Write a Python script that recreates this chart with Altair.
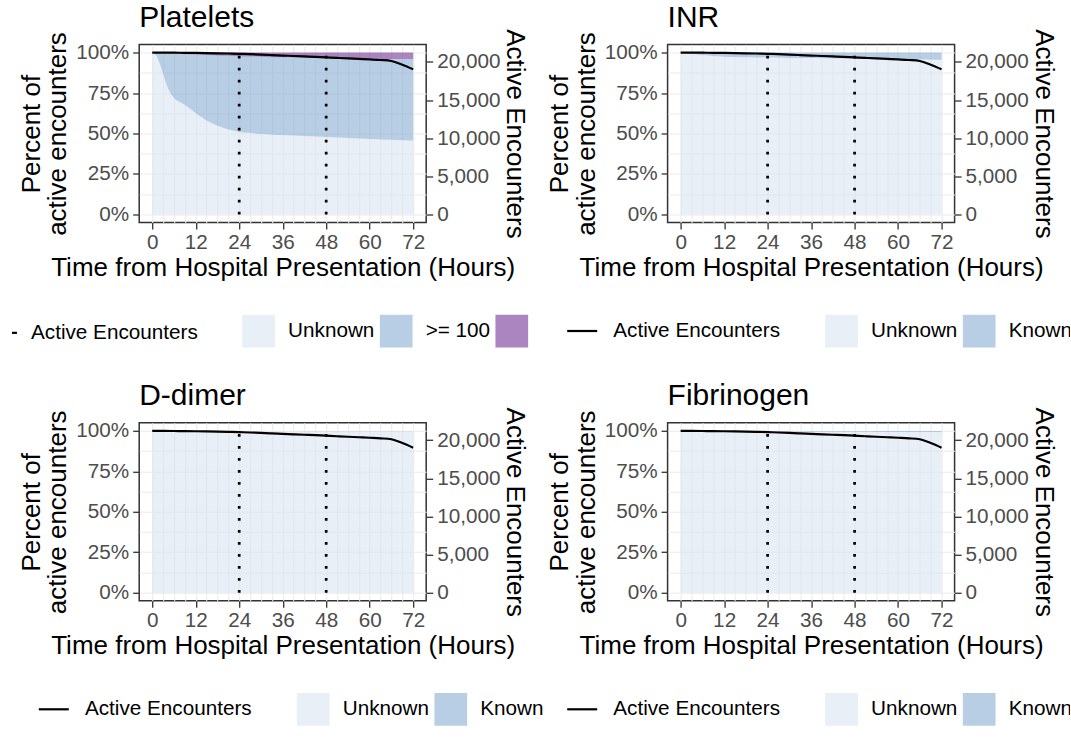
import altair as alt
import pandas as pd

FONT = "Liberation Sans"

# Hours at which the share of encounters in each lab status was read
hours = [0, 1, 2, 3, 4, 5, 6, 8, 10, 12, 15, 18, 21, 24, 27, 30, 33, 36, 39,
         42, 45, 48, 51, 54, 57, 60, 63, 66, 69, 72]

# Platelets (% of active encounters)
platelets_unknown = [100, 98.5, 93.5, 87, 80, 75, 72, 69, 66, 62.5, 58, 54.8, 52.5, 51,
                     50.3, 49.7, 49.3, 49.0, 48.7, 48.4, 48.1, 47.8, 47.5, 47.2, 46.9,
                     46.6, 46.3, 46.1, 45.9, 45.7]
platelets_ge100 = [0, 1.4, 6.3, 12.7, 19.6, 24.5, 27.4, 30.2, 33.0, 36.3, 40.5, 43.4, 45.5,
                   46.8, 47.3, 47.7, 47.9, 48.1, 48.3, 48.4, 48.6, 48.8, 49.0, 49.2, 49.4,
                   49.6, 49.8, 49.9, 50.1, 50.2]
platelets_lt100 = [0, 0.1, 0.2, 0.3, 0.4, 0.5, 0.6, 0.8, 1.0, 1.2, 1.5, 1.8, 2.0, 2.2, 2.4,
                   2.6, 2.8, 2.9, 3.0, 3.2, 3.3, 3.4, 3.5, 3.6, 3.7, 3.8, 3.9, 4.0, 4.0, 4.1]

# INR
inr_unknown = [100, 99.7, 99.4, 99.1, 98.9, 98.7, 98.5, 98.1, 97.8, 97.5, 97.3, 97.1, 97.0,
               96.9, 96.8, 96.7, 96.6, 96.6, 96.5, 96.4, 96.4, 96.3, 96.2, 96.1, 96.0,
               95.9, 95.8, 95.7, 95.6, 95.5]
inr_known = [0, 0.3, 0.6, 0.9, 1.1, 1.3, 1.5, 1.9, 2.2, 2.5, 2.7, 2.9, 3.0, 3.1, 3.2, 3.3,
             3.4, 3.4, 3.5, 3.6, 3.6, 3.7, 3.8, 3.9, 4.0, 4.1, 4.2, 4.3, 4.4, 4.5]

# D-dimer
ddimer_unknown = [100, 100, 100, 100, 100, 100, 100, 100, 99.9, 99.9, 99.9, 99.9, 99.9,
                  99.9, 99.9, 99.9, 99.9, 99.9, 99.9, 99.8, 99.8, 99.8, 99.8, 99.8, 99.8,
                  99.8, 99.8, 99.8, 99.8, 99.8]
ddimer_known = [0, 0, 0, 0, 0, 0, 0, 0, 0.1, 0.1, 0.1, 0.1, 0.1, 0.1, 0.1, 0.1, 0.1, 0.1,
                0.1, 0.2, 0.2, 0.2, 0.2, 0.2, 0.2, 0.2, 0.2, 0.2, 0.2, 0.2]

# Fibrinogen
fibrinogen_unknown = [100, 100, 99.95, 99.95, 99.9, 99.9, 99.9, 99.85, 99.85, 99.8, 99.75,
                      99.7, 99.65, 99.6, 99.6, 99.55, 99.55, 99.5, 99.5, 99.45, 99.45, 99.4,
                      99.4, 99.35, 99.35, 99.3, 99.3, 99.25, 99.25, 99.2]
fibrinogen_known = [0, 0, 0.05, 0.05, 0.1, 0.1, 0.1, 0.15, 0.15, 0.2, 0.25, 0.3, 0.35, 0.4,
                    0.4, 0.45, 0.45, 0.5, 0.5, 0.55, 0.55, 0.6, 0.6, 0.65, 0.65, 0.7, 0.7,
                    0.75, 0.75, 0.8]

# Encounters still in hospital (right axis)
line_hours = list(range(0, 73, 3))
active_encounters = [21230, 21225, 21215, 21200, 21185, 21165, 21140, 21110, 21070, 21020,
                     20965, 20905, 20845, 20785, 20725, 20665, 20600, 20530, 20460, 20395,
                     20330, 20255, 20130, 19640, 19030]

# Reference times marked with dotted lines
milestones = [24, 48]

grid_hours = list(range(0, 73, 3))
grid_pct = [0, 12.5, 25, 37.5, 50, 62.5, 75, 87.5, 100]
enc_ticks = [0, 5000, 10000, 15000, 20000]

COL_UNKNOWN = "#D9E4F2"
COL_BLUE = "#89ADD2"
COL_PURPLE = "#723496"

PLOT_W, PLOT_H = 287, 178
LEGEND_Y = 270


def x_enc():
    return alt.X(
        "hour:Q",
        scale=alt.Scale(domain=[-3.6, 75.6], nice=False, zero=False),
        axis=alt.Axis(
            values=grid_hours,
            labelExpr="datum.value % 12 === 0 ? datum.label : ''",
            tickOpacity={"condition": {"test": "datum.value % 12 === 0", "value": 1}, "value": 0},
            labelOverlap=False,
            grid=True,
            title="Time from Hospital Presentation (Hours)",
            titleLimit=1000,
            labelPadding=3,
            titlePadding=3,
        ),
    )


def pct_scale():
    return alt.Scale(domain=[-5, 105], nice=False, zero=False)


def stacked_frame(series):
    rows = []
    for rank, (label, values) in enumerate(series):
        for h, v in zip(hours, values):
            rows.append({"hour": h, "status": label, "pct": v, "rank": rank})
    return pd.DataFrame(rows)


def build_panel(title, series, colors, fill_x, stroke_x, stroke_size, stroke_offset, stroke_y):
    labels = [s[0] for s in series]
    areas = alt.Chart(stacked_frame(series)).mark_area(opacity=0.6, interpolate="monotone").encode(
        x=x_enc(),
        y=alt.Y(
            "pct:Q", stack="zero", scale=pct_scale(),
            axis=alt.Axis(
                values=grid_pct,
                labelExpr="datum.value % 25 === 0 ? datum.value + '%' : ''",
                tickOpacity={"condition": {"test": "datum.value % 25 === 0", "value": 1},
                             "value": 0},
                labelOverlap=False,
                grid=True,
                orient="left",
                title=["Percent of", "active encounters"],
                titleLineHeight=26.5,
                titleLimit=1000,
                labelPadding=4,
                titlePadding=5,
            ),
        ),
        color=alt.Color(
            "status:N",
            scale=alt.Scale(domain=labels, range=colors),
            legend=alt.Legend(
                title=None, orient="none", legendX=fill_x, legendY=LEGEND_Y,
                direction="horizontal", symbolType="square", symbolSize=1069,
                symbolStrokeWidth=0, labelOffset=13, columnPadding=4.6, padding=0,
                labelFont=FONT, labelFontSize=20.7, labelColor="black", labelLimit=400,
                labelExpr="datum.label == '< 100' ? '' : datum.label",
            ),
        ),
        order=alt.Order("rank:Q"),
    )
    rules = alt.Chart(pd.DataFrame({"hour": milestones, "lo": 0, "hi": 100})).mark_rule(
        color="black", strokeWidth=2.7, strokeDash=[2.7, 9.3]
    ).encode(
        x=x_enc(),
        y=alt.Y("lo:Q", scale=pct_scale(), axis=None),
        y2="hi:Q",
    )
    line_df = pd.DataFrame({"hour": line_hours, "encounters": active_encounters,
                            "series": "Active Encounters"})
    enc_top = active_encounters[0]
    line = alt.Chart(line_df).mark_line(strokeWidth=2.2, interpolate="monotone").encode(
        x=x_enc(),
        y=alt.Y(
            "encounters:Q",
            scale=alt.Scale(domain=[-0.05 * enc_top, 1.05 * enc_top], nice=False, zero=False),
            axis=alt.Axis(
                orient="right",
                values=enc_ticks,
                labelExpr="format(datum.value, ',')",
                grid=False,
                title="Active Encounters",
                titleLimit=1000,
                labelPadding=4,
                titlePadding=2,
            ),
        ),
        stroke=alt.Stroke(
            "series:N",
            scale=alt.Scale(domain=["Active Encounters"], range=["black"]),
            legend=alt.Legend(
                title=None, orient="none", legendX=stroke_x, legendY=stroke_y,
                symbolType="stroke", symbolSize=stroke_size, symbolStrokeWidth=2.2,
                labelOffset=stroke_offset, padding=0,
                labelFont=FONT, labelFontSize=20.7, labelColor="black", labelLimit=400,
            ),
        ),
    )
    return alt.layer(areas, rules, line).resolve_scale(y="independent").properties(
        width=PLOT_W, height=PLOT_H,
        title=alt.TitleParams(title, anchor="start", frame="group", baseline="alphabetic",
                              offset=-28, fontSize=30, font=FONT, fontWeight="normal",
                              color="black"),
    )


two = [COL_UNKNOWN, COL_BLUE]
p_platelets = build_panel(
    "Platelets",
    [("Unknown", platelets_unknown), (">= 100", platelets_ge100), ("< 100", platelets_lt100)],
    [COL_UNKNOWN, COL_BLUE, COL_PURPLE], 102.9, -135.1, 25, 6.2, LEGEND_Y + 8)
p_inr = build_panel("INR", [("Unknown", inr_unknown), ("Known", inr_known)], two,
                    157.5, -101.9, 900, 14.6, LEGEND_Y)
p_ddimer = build_panel("D-dimer", [("Unknown", ddimer_unknown), ("Known", ddimer_known)], two,
                       157.5, -101.9, 900, 14.6, LEGEND_Y)
p_fib = build_panel("Fibrinogen", [("Unknown", fibrinogen_unknown), ("Known", fibrinogen_known)],
                    two, 157.5, -101.9, 900, 14.6, LEGEND_Y)

top = alt.hconcat(p_platelets, p_inr, spacing=241.4, bounds="flush").resolve_scale(
    color="independent", stroke="independent")
bottom = alt.hconcat(p_ddimer, p_fib, spacing=241.4, bounds="flush").resolve_scale(
    color="independent", stroke="independent")

chart = alt.vconcat(top, bottom, spacing=378.3, bounds="flush").resolve_scale(
    color="independent", stroke="independent"
).properties(
    padding={"left": 3.2, "top": 1.5, "right": -3, "bottom": 0},
    background="white",
).configure_axis(
    labelFont=FONT, labelFontSize=20.7, labelColor="#4D4D4D",
    titleFont=FONT, titleFontSize=26, titleFontWeight="normal", titleColor="black",
    tickColor="#333333", tickWidth=1.3, tickSize=6.5, domain=False,
    gridColor="#EBEBEB", gridWidth=1.1,
).configure_view(
    stroke="#333333", strokeWidth=1.5,
)

chart.save("out.html", embed_options={"renderer": "svg", "actions": False})
